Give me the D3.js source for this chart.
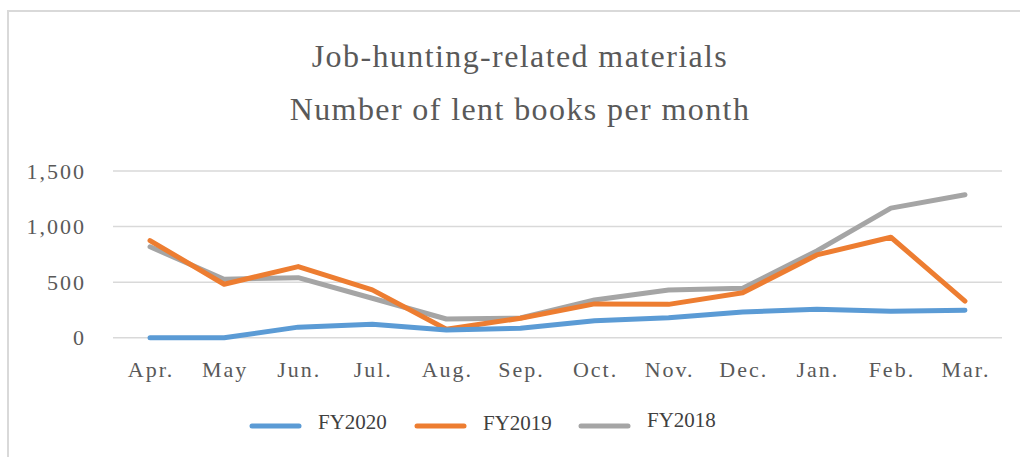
<!DOCTYPE html>
<html>
<head>
<meta charset="utf-8">
<script src="https://cdn.jsdelivr.net/npm/d3@7"></script>
<style>
  body { margin: 0; background: #fff; }
  svg text { font-family: "Liberation Serif", "DejaVu Serif", serif; fill: #595959; }
</style>
</head>
<body>
<svg id="chart" width="1020" height="457"></svg>
<script>
// data
var months = ["Apr.", "May", "Jun.", "Jul.", "Aug.", "Sep.", "Oct.", "Nov.", "Dec.", "Jan.", "Feb.", "Mar."]
var fy2020 = [0, 0, 95, 120, 70, 85, 153, 180, 231, 256, 238, 247]
var fy2019 = [874, 481, 640, 430, 76, 175, 304, 300, 405, 745, 904, 330]
var fy2018 = [818, 526, 540, 355, 168, 177, 340, 430, 445, 781, 1166, 1286]
var yTicks = [0, 500, 1000, 1500]
var seriesNames = ["FY2020", "FY2019", "FY2018"]
var seriesColors = ["#5b9bd5", "#ed7d31", "#a5a5a5"]

var series = [fy2020, fy2019, fy2018].map(function (v, i) {
  return { name: seriesNames[i], color: seriesColors[i], values: v }
})

var svg = d3.select("#chart")

// outer frame (only top & left visible)
svg.append("path")
  .attr("d", "M8,1020 L8,11 L1020,11")
  .attr("fill", "none")
  .attr("stroke", "#d9d9d9")
  .attr("stroke-width", 2)

// title
var title = svg.append("text")
  .attr("text-anchor", "middle")
  .style("font-size", "32px")
  .style("letter-spacing", "1.4px")
title.append("tspan").attr("x", 520).attr("y", 67).text("Job-hunting-related materials")
title.append("tspan").attr("x", 520).attr("y", 120).text("Number of lent books per month")

////////////////////////////// scales //////////////////////////////
var x = d3.scaleBand().domain(months).range([113, 1002])
var y = d3.scaleLinear().domain([0, 1500]).range([337.7, 171])

// gridlines
svg.append("g")
  .selectAll("line")
  .data(yTicks)
  .join("line")
    .attr("x1", 113).attr("x2", 1002)
    .attr("y1", d => y(d)).attr("y2", d => y(d))
    .attr("stroke", "#d9d9d9")
    .attr("stroke-width", 1.5)

// y axis labels
var yAxis = svg.append("g")
  .attr("transform", "translate(86,0)")
  .call(d3.axisLeft(y).tickValues(yTicks).tickSize(0).tickPadding(0).tickFormat(d3.format(",")))
yAxis.select(".domain").remove()
yAxis.selectAll("text")
  .attr("fill", null)
  .style("font-size", "22px")
  .style("letter-spacing", "2px")
  .style("font-family", null)

// x axis labels
var xAxis = svg.append("g")
  .attr("transform", "translate(1,361)")
  .call(d3.axisBottom(x).tickSize(0).tickPadding(0))
xAxis.select(".domain").remove()
xAxis.selectAll("text")
  .attr("fill", null)
  .attr("dy", "0.71em")
  .style("font-size", "22px")
  .style("letter-spacing", "2px")
  .style("font-family", null)

// lines
var line = d3.line()
  .x((d, i) => x(months[i]) + x.bandwidth() / 2)
  .y(d => y(d))

svg.append("g")
  .selectAll("path")
  .data(series.slice().reverse())
  .join("path")
    .attr("d", d => line(d.values))
    .attr("fill", "none")
    .attr("stroke", d => d.color)
    .attr("stroke-width", 5)
    .attr("stroke-linecap", "round")
    .attr("stroke-linejoin", "round")

// legend
var legendX = [252, 417, 581]
var legendY = [426, 426, 426]
var textY = [422, 423, 420]
var legend = svg.append("g")
  .selectAll("g")
  .data(series)
  .join("g")
    .attr("transform", (d, i) => "translate(" + legendX[i] + "," + legendY[i] + ")")
legend.append("line")
  .attr("x1", 0).attr("x2", 47)
  .attr("stroke", d => d.color)
  .attr("stroke-width", 5)
  .attr("stroke-linecap", "round")
legend.append("text")
  .attr("x", 66)
  .attr("y", (d, i) => textY[i] - legendY[i])
  .attr("dy", "0.35em")
  .style("font-size", "21px")
  .style("fill", "#404040")
  .text(d => d.name)
</script>
</body>
</html>
